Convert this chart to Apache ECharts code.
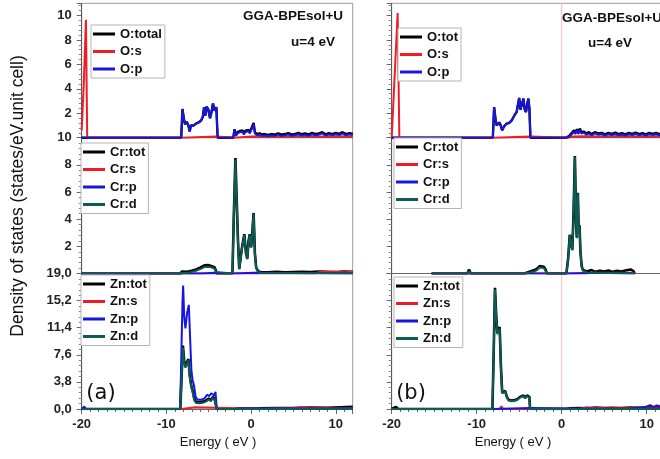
<!DOCTYPE html>
<html>
<head>
<meta charset="utf-8">
<script src="https://cdn.jsdelivr.net/npm/echarts@6/dist/echarts.min.js"></script>
<style>
html, body { margin: 0; padding: 0; background: #fff; }
#chart { width: 660px; height: 459px; }
</style>
</head>
<body>
<div id="chart"></div>
<script>
// tick labels
var xLabels = [-20, -10, 0, 10];
var oLabels = [2, 4, 6, 8, 10];
var crLabels = [2, 4, 6, 8, 10];
var znLabels = [0, 3.8, 7.6, 11.4, 15.2, 19.0];

// Fermi level (E = 0) reference line in panel (b)
var fermiE = 0;

// ---------------- (a) : [energy eV, DOS] ----------------
var oTotA = [[-20,0],[-8.25,0],[-8.1,2.35],[-7.95,1.6],[-7.8,1.1],[-7.6,1.3],[-7.4,1.0],[-7.25,0.5],[-7.1,1.0],[-6.8,1.0],[-6.5,1.15],[-6.2,1.25],[-5.9,1.4],[-5.7,1.7],[-5.55,2.5],[-5.4,1.8],[-5.25,2.55],[-5.05,2.3],[-4.85,1.6],[-4.7,2.0],[-4.5,2.8],[-4.3,2.2],[-4.1,2.5],[-3.95,0],
  [-2.1,0],[-1.95,0.7],[-1.8,0.25],[-1.6,0.45],[-1.45,0.3],[-1.3,0.55],[-1.15,0.4],[-1.0,0.6],[-0.85,0.35],[-0.7,0.55],[-0.5,0.4],[-0.3,0.65],[-0.15,0.45],[0.05,0.6],[0.3,1.2],[0.45,0.45],[0.7,0.3],[1.0,0.35],[1.3,0.25],[1.6,0.3],[2.0,0.22],[2.4,0.3],[2.8,0.25],[3.2,0.35],[3.6,0.25],[4.0,0.3],[4.4,0.38],[4.8,0.25],[5.2,0.32],[5.6,0.4],[6.0,0.28],[6.4,0.35],[6.8,0.25],[7.2,0.4],[7.6,0.3],[8.0,0.35],[8.4,0.45],[8.8,0.28],[9.2,0.38],[9.6,0.3],[10.0,0.4],[10.4,0.32],[10.8,0.45],[11.2,0.3],[11.6,0.38],[12,0.32]];
var oSA = [[-20,0.6],[-19.75,4.5],[-19.5,9.65],[-19.35,0],[-8.2,0],[-8.1,0.1],[-4.05,0.1],[-3.95,0],[-2,0],[-1.9,0.08],[0,0.1],[2,0.12],[4,0.1],[6,0.14],[8,0.1],[10,0.12],[12,0.1]];
var oPA = [[-20,0],[-8.25,0],[-8.1,2.35],[-7.95,1.6],[-7.8,1.1],[-7.6,1.3],[-7.4,1.0],[-7.25,0.5],[-7.1,1.0],[-6.8,1.0],[-6.5,1.15],[-6.2,1.25],[-5.9,1.4],[-5.7,1.7],[-5.55,2.5],[-5.4,1.8],[-5.25,2.55],[-5.05,2.3],[-4.85,1.6],[-4.7,2.0],[-4.5,2.8],[-4.3,2.2],[-4.1,2.5],[-3.95,0],
  [-2.1,0],[-1.95,0.65],[-1.8,0.15],[-1.6,0.35],[-1.45,0.2],[-1.3,0.45],[-1.15,0.3],[-1.0,0.5],[-0.85,0.25],[-0.7,0.45],[-0.5,0.3],[-0.3,0.55],[-0.15,0.35],[0.05,0.5],[0.3,1.1],[0.45,0.35],[0.7,0.2],[1.0,0.25],[1.3,0.15],[1.6,0.2],[2.0,0.12],[2.4,0.2],[2.8,0.15],[3.2,0.25],[3.6,0.15],[4.0,0.2],[4.4,0.28],[4.8,0.15],[5.2,0.22],[5.6,0.3],[6.0,0.18],[6.4,0.25],[6.8,0.15],[7.2,0.3],[7.6,0.2],[8.0,0.25],[8.4,0.35],[8.8,0.18],[9.2,0.28],[9.6,0.2],[10.0,0.3],[10.4,0.22],[10.8,0.35],[11.2,0.2],[11.6,0.28],[12,0.22]];

var crTotA = [[-20,0],[-19.9,0.12],[-19.7,0],[-8.3,0],[-8.2,0.15],[-7.6,0.12],[-7.0,0.2],[-6.5,0.3],[-6.1,0.4],[-5.8,0.5],[-5.5,0.6],[-5.3,0.72],[-5.1,0.62],[-4.9,0.66],[-4.7,0.55],[-4.5,0.6],[-4.3,0.45],[-4.15,0.2],[-4.05,0],[-2.2,0],[-2.05,4],[-1.85,8.5],[-1.65,4.5],[-1.55,2.5],[-1.4,0.35],[-1.1,1.8],[-0.8,2.9],[-0.6,1.5],[-0.45,1.1],[-0.3,2.4],[-0.15,2.9],[0,1.95],[0.1,2.6],[0.3,4.45],[0.45,1.5],[0.6,0.45],[0.8,0.2],[1.1,0.1],[2,0.08],[3,0.12],[4,0.08],[5,0.1],[6,0.12],[7,0.1],[8,0.15],[9,0.12],[10,0.1],[11,0.15],[12,0.12]];
var crSA = [[-20,0],[7.5,0],[8,0.1],[9,0.15],[10,0.12],[11,0.1],[12,0.12]];
var crPA = [[-20,0],[-5.8,0],[-5.7,0.06],[-4.3,0.06],[-4.2,0],[-2.0,0],[-1.9,0.06],[0.4,0.06],[0.5,0],[12,0]];
var crDA = [[-20,0],[-8.3,0],[-8.2,0.08],[-7.6,0.06],[-7.0,0.12],[-6.5,0.2],[-6.1,0.3],[-5.8,0.38],[-5.5,0.48],[-5.3,0.6],[-5.1,0.5],[-4.9,0.55],[-4.7,0.45],[-4.5,0.5],[-4.3,0.35],[-4.15,0.12],[-4.05,0],[-2.2,0],[-2.05,3.9],[-1.85,8.4],[-1.65,4.4],[-1.55,2.4],[-1.4,0.3],[-1.1,1.75],[-0.8,2.85],[-0.6,1.45],[-0.45,1.05],[-0.3,2.35],[-0.15,2.85],[0,1.9],[0.1,2.55],[0.3,4.4],[0.45,1.45],[0.6,0.4],[0.8,0.15],[1.1,0.05],[1.3,0],[12,0]];

var znTotA = [[-20,0],[-8.35,0],[-8.25,3.2],[-8.05,8.9],[-7.9,6.8],[-7.75,6.0],[-7.55,6.6],[-7.4,7.0],[-7.25,4.8],[-7.05,3.2],[-6.9,2.6],[-6.7,1.4],[-6.5,1.0],[-6.2,0.95],[-5.8,1.0],[-5.4,1.15],[-5.0,1.45],[-4.75,1.25],[-4.5,1.7],[-4.3,1.4],[-4.15,1.6],[-4.05,0],[-1.5,0],[-1,0.08],[1,0.1],[3,0.15],[5,0.12],[7,0.2],[9,0.18],[10.5,0.25],[12,0.3]];
var znSA = [[-20,0],[-8.2,0],[-8.1,0.25],[-6.6,0.25],[-6.5,0],[2,0],[3,0.12],[5,0.15],[6,0.25],[7,0.12],[8,0.2],[9.5,0.1],[12,0.12]];
var znPA = [[-20,0],[-19.7,0.35],[-19.5,0],[-8.4,0],[-8.3,4],[-8.1,15],[-8.02,17.3],[-7.9,13],[-7.75,11.3],[-7.55,13.5],[-7.35,14.6],[-7.2,10],[-7.05,5.5],[-6.9,4.0],[-6.75,3.4],[-6.55,1.7],[-6.3,1.3],[-5.9,1.3],[-5.5,1.5],[-5.2,2.0],[-4.95,1.8],[-4.7,2.2],[-4.5,2.45],[-4.35,1.9],[-4.2,2.4],[-4.05,0],[-2,0],[-1.5,0.12],[0,0.08],[2,0.1],[4,0.06],[12,0.06]];
var znDA = [[-20,0],[-8.35,0],[-8.25,3.0],[-8.05,8.6],[-7.9,6.5],[-7.75,5.8],[-7.55,6.4],[-7.4,6.8],[-7.25,4.6],[-7.05,3.0],[-6.9,2.4],[-6.7,1.2],[-6.5,0.85],[-6.2,0.8],[-5.8,0.85],[-5.4,1.0],[-5.0,1.3],[-4.75,1.1],[-4.5,1.55],[-4.3,1.25],[-4.15,1.45],[-4.05,0],[12,0]];

// ---------------- (b) ----------------
var oTotB = [[-20,0],[-8.1,0],[-7.95,2.5],[-7.8,1.6],[-7.65,1.0],[-7.5,0.9],[-7.35,1.25],[-7.2,1.05],[-7.0,0.6],[-6.8,0.9],[-6.5,1.15],[-6.2,1.2],[-5.9,1.4],[-5.7,1.45],[-5.5,1.9],[-5.3,2.1],[-5.15,2.7],[-5.0,3.25],[-4.85,2.3],[-4.7,2.4],[-4.5,3.2],[-4.35,2.3],[-4.2,2.1],[-4.05,2.8],[-3.92,3.2],[-3.8,2.4],[-3.68,0],
  [0.5,0],[0.9,0.15],[1.2,0.4],[1.45,0.6],[1.6,0.4],[1.8,0.7],[1.95,0.4],[2.15,0.75],[2.3,0.45],[2.6,0.5],[2.9,0.35],[3.2,0.45],[3.5,0.3],[3.9,0.45],[4.3,0.35],[4.7,0.4],[5.1,0.28],[5.5,0.4],[5.9,0.32],[6.3,0.42],[6.7,0.3],[7.1,0.38],[7.5,0.28],[7.9,0.4],[8.3,0.32],[8.7,0.42],[9.1,0.3],[9.5,0.38],[9.9,0.28],[10.3,0.4],[10.7,0.32],[11.1,0.4],[11.5,0.3],[12,0.4]];
var oSB = [[-20,0],[-19.9,0],[-19.3,10.2],[-19.1,0],[-8.0,0],[-7.9,0.1],[-3.7,0.1],[-3.6,0],[0.8,0],[1.1,0.1],[3,0.12],[5,0.1],[7,0.14],[9,0.1],[12,0.12]];
var oPB = [[-20,0],[-8.1,0],[-7.95,2.5],[-7.8,1.6],[-7.65,1.0],[-7.5,0.9],[-7.35,1.25],[-7.2,1.05],[-7.0,0.6],[-6.8,0.9],[-6.5,1.15],[-6.2,1.2],[-5.9,1.4],[-5.7,1.45],[-5.5,1.9],[-5.3,2.1],[-5.15,2.7],[-5.0,3.25],[-4.85,2.3],[-4.7,2.4],[-4.5,3.2],[-4.35,2.3],[-4.2,2.1],[-4.05,2.8],[-3.92,3.2],[-3.8,2.4],[-3.68,0],
  [0.5,0],[0.9,0.1],[1.2,0.3],[1.45,0.5],[1.6,0.3],[1.8,0.6],[1.95,0.3],[2.15,0.65],[2.3,0.35],[2.6,0.4],[2.9,0.25],[3.2,0.35],[3.5,0.2],[3.9,0.35],[4.3,0.25],[4.7,0.3],[5.1,0.18],[5.5,0.3],[5.9,0.22],[6.3,0.32],[6.7,0.2],[7.1,0.28],[7.5,0.18],[7.9,0.3],[8.3,0.22],[8.7,0.32],[9.1,0.2],[9.5,0.28],[9.9,0.18],[10.3,0.3],[10.7,0.22],[11.1,0.3],[11.5,0.2],[12,0.3]];

var crTotB = [[-15.3,0],[-11.1,0],[-10.9,0.3],[-10.7,0],[-4.4,0],[-4.2,0.12],[-3.7,0.15],[-3.2,0.25],[-2.9,0.35],[-2.6,0.55],[-2.4,0.45],[-2.1,0.5],[-1.9,0.3],[-1.75,0],[0.55,0],[0.75,1.05],[0.95,2.85],[1.1,2.25],[1.25,1.75],[1.4,4.6],[1.55,8.65],[1.7,3.6],[1.78,2.65],[1.9,5.95],[2.0,3.05],[2.1,3.55],[2.2,1.65],[2.35,0.55],[2.5,0.25],[3,0.15],[3.5,0.25],[4,0.12],[4.5,0.2],[5,0.15],[5.5,0.22],[6,0.12],[6.5,0.2],[7,0.15],[7.5,0.22],[8.1,0.3],[8.4,0.2],[8.6,0]];
var crSB = [[-15.3,0],[3,0],[3.5,0.05],[8.5,0.05],[8.6,0]];
var crPB = [[-15.3,0],[0.6,0],[0.7,0.06],[4.2,0.06],[4.3,0],[8.6,0]];
var crDB = [[-15.3,0],[-11.1,0],[-10.9,0.2],[-10.7,0],[-4.4,0],[-4.2,0.06],[-3.7,0.08],[-3.2,0.15],[-2.9,0.25],[-2.6,0.45],[-2.4,0.35],[-2.1,0.4],[-1.9,0.2],[-1.75,0],[0.55,0],[0.75,1.0],[0.95,2.8],[1.1,2.2],[1.25,1.7],[1.4,4.5],[1.55,8.6],[1.7,3.5],[1.78,2.6],[1.9,5.9],[2.0,3.0],[2.1,3.5],[2.2,1.6],[2.35,0.5],[2.5,0.2],[3,0.08],[4,0.05],[8.6,0]];

var znTotB = [[-20,0],[-19.5,0.3],[-19.25,0],[-8.15,0],[-8.0,8],[-7.85,17],[-7.7,13],[-7.58,10.7],[-7.42,11.1],[-7.3,11.5],[-7.15,6],[-7.0,2.3],[-6.8,2.4],[-6.65,2.55],[-6.45,1.7],[-6.25,1.3],[-5.9,1.2],[-5.5,1.25],[-5.2,1.4],[-4.9,1.7],[-4.7,1.5],[-4.5,1.9],[-4.3,1.6],[-4.1,1.9],[-3.95,2.1],[-3.8,1.7],[-3.72,0],[0.5,0],[1,0.1],[2,0.15],[3,0.1],[4,0.2],[5,0.12],[6,0.18],[7,0.15],[8,0.22],[9,0.18],[10,0.25],[11,0.2],[12,0.3]];
var znSB = [[-20,0],[-7.3,0],[-7.1,0.4],[-6.9,0],[2,0],[2.5,0.15],[3,0.25],[3.5,0.1],[4,0.2],[5,0.1],[12,0.1]];
var znPB = [[-20,0],[-8.1,0],[-8.0,0.15],[-3.75,0.15],[-3.7,0],[8,0],[8.5,0.1],[9,0.2],[9.5,0.15],[10,0.35],[10.4,0.55],[10.8,0.3],[11.2,0.5],[11.6,0.35],[12,0.45]];
var znDB = [[-20,0],[-8.15,0],[-8.0,7.8],[-7.85,16.8],[-7.7,12.8],[-7.58,10.5],[-7.42,10.9],[-7.3,11.3],[-7.15,5.8],[-7.0,2.2],[-6.8,2.3],[-6.65,2.45],[-6.45,1.6],[-6.25,1.2],[-5.9,1.1],[-5.5,1.15],[-5.2,1.3],[-4.9,1.6],[-4.7,1.4],[-4.5,1.8],[-4.3,1.5],[-4.1,1.8],[-3.95,2.0],[-3.8,1.6],[-3.72,0],[12,0]];

var BLACK = '#000000', RED = '#ee1c24', BLUE = '#1616e0', TEAL = '#0d5c54';

var chart = echarts.init(document.getElementById('chart'));

// grid geometry: [left, top, width, height]  (panel b runs past the right edge, as in the original crop)
var grids = [
    [81.7, 3.3, 271, 134.4], [81.7, 137.7, 271, 135.8], [81.7, 273.5, 271, 135.5],
    [391.7, 3.3, 272, 134.4], [391.7, 137.7, 272, 135.8], [391.7, 273.5, 272, 135.5]
];
var yMax = [11, 10, 19, 11, 10, 19];
var yInt = [2, 2, 3.8, 2, 2, 3.8];
var yLab = [oLabels, crLabels, znLabels, oLabels, crLabels, znLabels];

function inList(v, list) {
    for (var i = 0; i < list.length; i++) {
        if (Math.abs(list[i] - v) < 1e-6) return true;
    }
    return false;
}

var gridOpt = [], xAxes = [], yAxes = [];
grids.forEach(function (g, i) {
    gridOpt.push({left: g[0], top: g[1], width: g[2], height: g[3], show: true,
        outerBoundsMode: 'none', containLabel: false,
        borderColor: '#9a9a9a', borderWidth: 1, backgroundColor: 'transparent'});
    var bottomRow = (i % 3 === 2);
    xAxes.push({
        type: 'value', gridIndex: i, min: -20, max: 12, interval: 10,
        axisLine: {show: true, onZero: false, lineStyle: {color: '#666', width: 1}},
        axisTick: {show: bottomRow, length: 5, lineStyle: {color: '#666'}},
        minorTick: {show: bottomRow, splitNumber: 10, length: 3, lineStyle: {color: '#666'}},
        splitLine: {show: false},
        axisPointer: {show: false},
        axisLabel: {show: bottomRow, margin: 9, color: '#222', fontSize: 13,
            fontFamily: 'Liberation Sans', fontWeight: 'bold',
            formatter: function (v) { return inList(v, xLabels) ? String(v) : ''; }}
    });
    var leftPanel = i < 3;
    var labs = yLab[i];
    yAxes.push({
        type: 'value', gridIndex: i, min: 0, max: yMax[i], interval: yInt[i],
        axisLine: {show: true, onZero: false, lineStyle: {color: '#555', width: 1}},
        axisTick: {show: true, length: 5, lineStyle: {color: '#666'}},
        minorTick: {show: true, splitNumber: 5, length: 3, lineStyle: {color: '#888'}},
        splitLine: {show: false},
        axisPointer: {show: false},
        axisLabel: {show: leftPanel, margin: 10, color: '#222', fontSize: 13,
            fontFamily: 'Liberation Sans', fontWeight: 'bold',
            formatter: function (v) {
                if (!inList(v, labs)) return '';
                return labs === znLabels ? v.toFixed(1).replace('.', ',') : String(v);
            }}
    });
});

function line(name, data, color, gi, width) {
    return {
        name: name, type: 'line', data: data, xAxisIndex: gi, yAxisIndex: gi,
        symbol: 'none', smooth: false, clip: true, silent: true,
        itemStyle: {color: color},
        lineStyle: {color: color, width: width || 2}
    };
}

var series = [];
// faint Fermi line first so curves are painted over it
[3, 4, 5].forEach(function (gi) {
    series.push(line('', [[fermiE, 0], [fermiE, yMax[gi]]], '#f0bcc3', gi, 1));
});
series.push(
    line('O:total', oTotA, BLACK, 0, 2.4), line('O:s', oSA, RED, 0), line('O:p', oPA, BLUE, 0),
    line('Cr:tot', crTotA, BLACK, 1, 2.6), line('Cr:s', crSA, RED, 1), line('Cr:p', crPA, BLUE, 1), line('Cr:d', crDA, TEAL, 1),
    line('Zn:tot', znTotA, BLACK, 2, 2.6), line('Zn:s', znSA, RED, 2), line('Zn:p', znPA, BLUE, 2), line('Zn:d', znDA, TEAL, 2),
    line('O:tot', oTotB, BLACK, 3, 2.4), line('O:s', oSB, RED, 3), line('O:p', oPB, BLUE, 3),
    line('Cr:tot', crTotB, BLACK, 4, 2.6), line('Cr:s', crSB, RED, 4), line('Cr:p', crPB, BLUE, 4), line('Cr:d', crDB, TEAL, 4),
    line('Zn:tot', znTotB, BLACK, 5, 2.6), line('Zn:s', znSB, RED, 5), line('Zn:p', znPB, BLUE, 5), line('Zn:d', znDB, TEAL, 5)
);

function legend(names, left, top) {
    return {
        data: names, left: left, top: top, orient: 'vertical',
        icon: 'rect', itemWidth: 22, itemHeight: 3, itemGap: 3.5,
        padding: [2, 3, 2, 2], backgroundColor: '#fff',
        borderColor: '#b5b5b5', borderWidth: 1, selectedMode: false,
        textStyle: {fontSize: 13, fontWeight: 'bold', color: '#111',
            fontFamily: 'Liberation Sans', lineHeight: 14}
    };
}

var legends = [
    legend(['O:total', 'O:s', 'O:p'], 91, 25),
    legend(['Cr:tot', 'Cr:s', 'Cr:p', 'Cr:d'], 81, 143),
    legend(['Zn:tot', 'Zn:s', 'Zn:p', 'Zn:d'], 81, 275),
    legend(['O:tot', 'O:s', 'O:p'], 398, 28),
    legend(['Cr:tot', 'Cr:s', 'Cr:p', 'Cr:d'], 394, 138),
    legend(['Zn:tot', 'Zn:s', 'Zn:p', 'Zn:d'], 394, 277)
];

function txt(s, x, y, size, weight, family, rot) {
    return {
        type: 'text', x: x, y: y, rotation: rot || 0, silent: true, z: 100,
        style: {text: s, fontSize: size, fontWeight: weight, fontFamily: family,
            fill: '#111', align: 'center', verticalAlign: 'middle'}
    };
}

var option = {
    animation: false,
    backgroundColor: '#fff',
    grid: gridOpt,
    xAxis: xAxes,
    yAxis: yAxes,
    legend: legends,
    series: series,
    graphic: [
        txt('Density of states (states/eV.unit cell)', 18, 196, 17.5, 'normal', 'Liberation Sans', Math.PI / 2),
        txt('Energy ( eV )', 218, 442, 13, 'normal', 'Liberation Sans'),
        txt('Energy ( eV )', 513, 442, 13, 'normal', 'Liberation Sans'),
        txt('(a)', 101, 394, 21, 'normal', 'DejaVu Sans'),
        txt('(b)', 411, 394, 21, 'normal', 'DejaVu Sans'),
        txt('GGA-BPEsol+U', 293, 16, 13.5, 'bold', 'Liberation Sans'),
        txt('u=4 eV', 313, 42, 13.5, 'bold', 'Liberation Sans'),
        txt('GGA-BPEsol+U', 612, 18, 13.5, 'bold', 'Liberation Sans'),
        txt('u=4 eV', 610, 43, 13.5, 'bold', 'Liberation Sans')
    ]
};
chart.setOption(option);
</script>
</body>
</html>
